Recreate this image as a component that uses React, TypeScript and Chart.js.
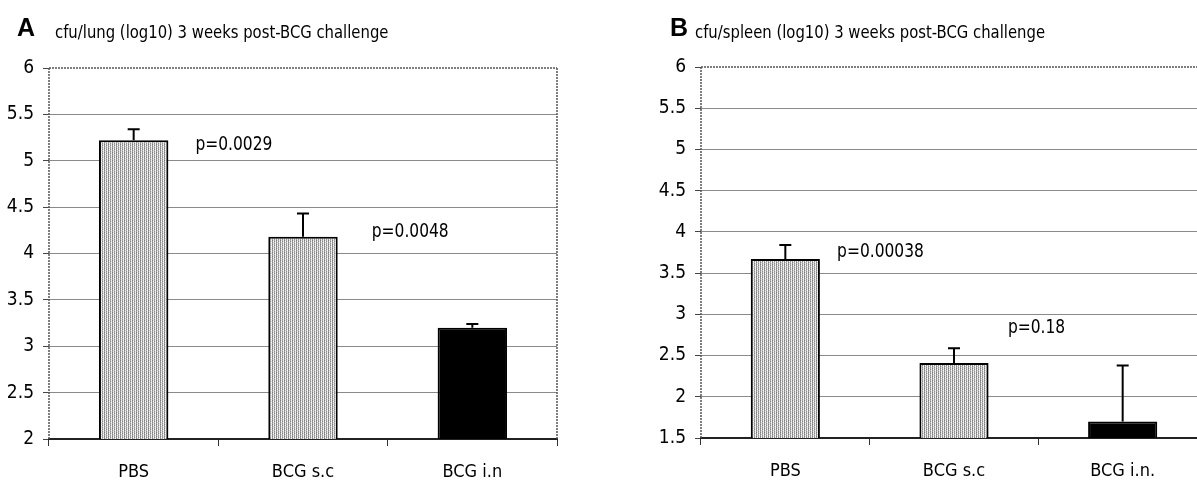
import React, { useEffect, useRef } from "react";
import { Chart, registerables } from "chart.js";

Chart.register(...registerables);

// ---------- data ----------
const lungCategories = ["PBS", "BCG s.c", "BCG i.n"];
const lungMeans = [5.22, 4.18, 3.2];
const lungErrorTops = [5.34, 4.43, 3.24];
const lungPValues = ["p=0.0029", "p=0.0048"];
const lungTickValues = [2, 2.5, 3, 3.5, 4, 4.5, 5, 5.5, 6];

const spleenCategories = ["PBS", "BCG s.c", "BCG i.n."];
const spleenMeans = [3.67, 2.41, 1.7];
const spleenErrorTops = [3.84, 2.59, 2.38];
const spleenPValues = ["p=0.00038", "p=0.18"];
const spleenTickValues = [1.5, 2, 2.5, 3, 3.5, 4, 4.5, 5, 5.5, 6];

const lungTitle = "cfu/lung (log10) 3 weeks post-BCG challenge";
const spleenTitle = "cfu/spleen (log10) 3 weeks post-BCG challenge";

const NARROW = '"Liberation Sans Narrow", "DejaVu Sans Condensed", "Liberation Sans", sans-serif';
const BOLD = '"Liberation Sans", Arial, sans-serif';

function makeStipple(): CanvasPattern | string {
  const c = document.createElement("canvas");
  c.width = 4;
  c.height = 4;
  const g = c.getContext("2d");
  if (!g) return "#c4c4c4";
  const rows = [
    ["#7a7a7a", "#e0e0e0", "#a8a8a8", "#f2f2f2"],
    ["#9a9a9a", "#ffffff", "#888888", "#dcdcdc"],
    ["#858585", "#d2d2d2", "#b4b4b4", "#ffffff"],
    ["#a0a0a0", "#f0f0f0", "#909090", "#e4e4e4"],
  ];
  rows.forEach((r, yy) =>
    r.forEach((col, xx) => {
      g.fillStyle = col;
      g.fillRect(xx, yy, 1, 1);
    })
  );
  const p = g.createPattern(c, "repeat");
  return p || "#c4c4c4";
}

function condensedText(
  ctx: CanvasRenderingContext2D,
  text: string,
  x: number,
  y: number,
  sx: number
) {
  ctx.save();
  ctx.translate(x, y);
  ctx.scale(sx, 1);
  ctx.fillText(text, 0, 0);
  ctx.restore();
}

const extrasPlugin = {
  id: "extras",
  afterDraw(chart: any, _args: any, opts: any) {
    const ctx: CanvasRenderingContext2D = chart.ctx;
    const { left, right, top, bottom } = chart.chartArea;
    const xs = chart.scales.x;
    const ys = chart.scales.y;
    ctx.save();
    // borders
    ctx.strokeStyle = "#555";
    ctx.lineWidth = 1.5;
    ctx.setLineDash([2, 1]);
    ctx.beginPath();
    ctx.moveTo(left, top);
    ctx.lineTo(right, top);
    ctx.moveTo(left, top);
    ctx.lineTo(left, bottom);
    if (opts.rightBorder) {
      ctx.moveTo(right, top);
      ctx.lineTo(right, bottom);
    }
    ctx.stroke();
    ctx.setLineDash([]);
    // error bars
    const meta = chart.getDatasetMeta(0);
    ctx.strokeStyle = "#000";
    ctx.lineWidth = 2;
    opts.errorTops.forEach((v: number, i: number) => {
      const bar = meta.data[i];
      const yTop = ys.getPixelForValue(v);
      ctx.beginPath();
      ctx.moveTo(bar.x, bar.y);
      ctx.lineTo(bar.x, yTop);
      ctx.moveTo(bar.x - 6, yTop);
      ctx.lineTo(bar.x + 6, yTop);
      ctx.stroke();
    });
    // p-values
    ctx.fillStyle = "#000";
    ctx.font = `20px ${NARROW}`;
    ctx.textAlign = "left";
    ctx.textBaseline = "middle";
    opts.pValues.forEach((t: string, i: number) => {
      const [cx, cy] = opts.pAnchors[i];
      condensedText(ctx, t, xs.getPixelForValue(cx), ys.getPixelForValue(cy), 0.86);
    });
    // panel letter + title
    ctx.textBaseline = "alphabetic";
    ctx.font = `bold 25px ${BOLD}`;
    ctx.fillText(opts.letter, opts.letterX, 36);
    ctx.font = `17px ${NARROW}`;
    condensedText(ctx, opts.title, opts.titleX, 38, 0.97);
    ctx.restore();
  },
};

function makeConfig(
  categories: string[],
  means: number[],
  ticks: number[],
  yMin: number,
  yAxisWidth: number,
  xAxisHeight: number,
  padding: any,
  stipple: any,
  extras: any
): any {
  return {
    type: "bar",
    data: {
      labels: categories,
      datasets: [
        {
          data: means,
          backgroundColor: [stipple, stipple, "#000"],
          borderColor: "#000",
          borderWidth: 2,
          borderSkipped: "bottom",
          barPercentage: 0.41,
          categoryPercentage: 1,
        },
      ],
    },
    options: {
      responsive: false,
      animation: false,
      layout: { padding },
      plugins: {
        legend: { display: false },
        tooltip: { enabled: false },
        extras,
      },
      scales: {
        x: {
          afterFit: (s: any) => {
            s.height = xAxisHeight;
          },
          grid: {
            display: true,
            drawOnChartArea: false,
            drawTicks: true,
            tickLength: 7,
            color: "#333",
            offset: true,
          },
          border: { display: true, color: "#222", width: 2 },
          ticks: {
            color: "#000",
            font: { family: NARROW, size: 18 },
            padding: 16,
          },
        },
        y: {
          min: yMin,
          max: 6,
          afterFit: (s: any) => {
            s.width = yAxisWidth;
          },
          afterBuildTicks: (s: any) => {
            s.ticks = ticks.map((v) => ({ value: v }));
          },
          grid: {
            color: (c: any) => (c.tick && c.tick.value === 6 ? "rgba(0,0,0,0)" : "#8a8a8a"),
            lineWidth: 1,
            drawTicks: true,
            tickLength: 6,
            tickColor: "#444",
          },
          border: { display: false },
          ticks: {
            color: "#000",
            font: { family: NARROW, size: 19 },
            padding: 9,
            callback: (v: any) => String(v),
          },
        },
      },
    },
    plugins: [extrasPlugin],
  };
}

export default function App() {
  const refA = useRef<HTMLCanvasElement>(null);
  const refB = useRef<HTMLCanvasElement>(null);

  useEffect(() => {
    const stipple = makeStipple();
    const chartA = new Chart(
      refA.current as HTMLCanvasElement,
      makeConfig(
        lungCategories,
        lungMeans,
        lungTickValues,
        2,
        49,
        47,
        { left: 0, top: 68, right: 23, bottom: 0 },
        stipple,
        {
          errorTops: lungErrorTops,
          pValues: lungPValues,
          pAnchors: [
            [0.365, 5.17],
            [1.406, 4.23],
          ],
          rightBorder: true,
          letter: "A",
          letterX: 17,
          title: lungTitle,
          titleX: 55,
        }
      )
    );
    const chartB = new Chart(
      refB.current as HTMLCanvasElement,
      makeConfig(
        spleenCategories,
        spleenMeans,
        spleenTickValues,
        1.5,
        101,
        48,
        { left: 0, top: 67, right: 13, bottom: 0 },
        stipple,
        {
          errorTops: spleenErrorTops,
          pValues: spleenPValues,
          pAnchors: [
            [0.307, 3.76],
            [1.32, 2.84],
          ],
          rightBorder: false,
          letter: "B",
          letterX: 70,
          title: spleenTitle,
          titleX: 95,
        }
      )
    );
    return () => {
      chartA.destroy();
      chartB.destroy();
    };
  }, []);

  return (
    <div
      style={{
        position: "fixed",
        left: 0,
        top: 0,
        width: 1197,
        height: 486,
        overflow: "hidden",
        background: "#fff",
      }}
    >
      <canvas
        ref={refA}
        width={580}
        height={486}
        style={{ position: "absolute", left: 0, top: 0, display: "block" }}
      />
      <canvas
        ref={refB}
        width={620}
        height={486}
        style={{ position: "absolute", left: 600, top: 0, display: "block" }}
      />
    </div>
  );
}
